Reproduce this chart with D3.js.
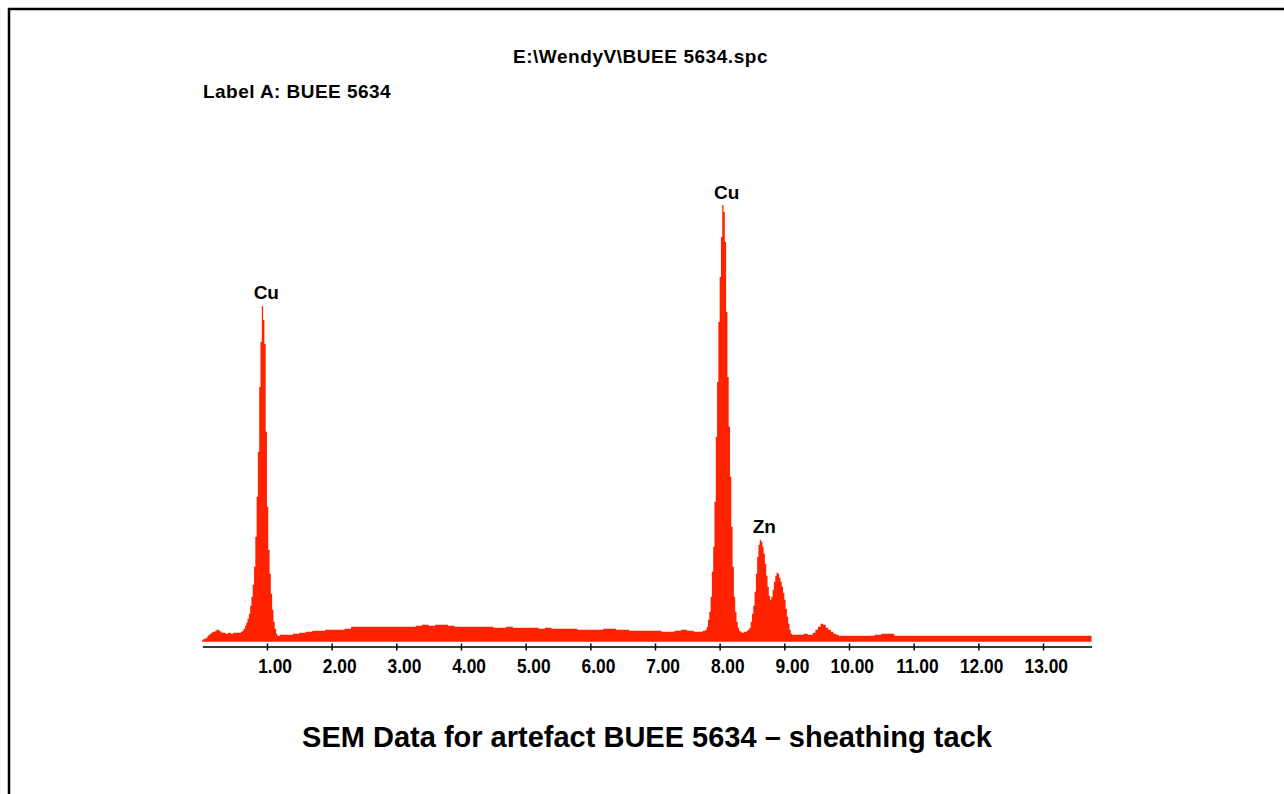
<!DOCTYPE html>
<html><head><meta charset="utf-8">
<script src="https://cdn.jsdelivr.net/npm/d3@7"></script>
<style>html,body{margin:0;padding:0;background:#fff;} svg{display:block;}</style>
</head><body>
<svg id="chart" width="1284" height="794"></svg>
<script>
// ---- chart text ----
const titleText = "E:\\WendyV\\BUEE 5634.spc";
const labelText = "Label A: BUEE 5634";
const captionText = "SEM Data for artefact BUEE 5634 \u2013 sheathing tack";

// ---- axis ticks (keV) ----
const tickValues = [1, 2, 3, 4, 5, 6, 7, 8, 9, 10, 11, 12, 13];

// ---- spectrum: channel start energy (keV) and counts ----
const energies = [
  0.00, 0.02, 0.04, 0.06, 0.08, 0.10, 0.12, 0.14, 0.16, 0.18, 0.20, 0.22, 0.24, 0.26, 0.28, 0.30, 0.32, 0.36, 0.40, 0.44, 0.48, 0.52, 0.56,
  0.60, 0.62, 0.64, 0.66, 0.68, 0.70, 0.72, 0.74, 0.76, 0.78, 0.80, 0.82, 0.84, 0.86, 0.88, 0.90, 0.92, 0.94, 0.96, 0.98,
  1.00, 1.02, 1.04, 1.06, 1.08, 1.10, 1.12, 1.14, 1.16, 1.18, 1.20,
  1.30, 1.40, 1.50, 1.60, 1.70, 1.80, 1.90, 2.00, 2.10, 2.20, 2.30, 2.40, 2.50, 2.60, 2.70, 2.80, 2.90,
  3.00, 3.10, 3.20, 3.30, 3.40, 3.50, 3.60, 3.70, 3.80, 3.90, 4.00, 4.10, 4.20, 4.30, 4.40, 4.50, 4.60, 4.70, 4.80, 4.90,
  5.00, 5.10, 5.20, 5.30, 5.40, 5.50, 5.60, 5.70, 5.80, 5.90, 6.00, 6.10, 6.20, 6.30, 6.40, 6.50, 6.60, 6.70, 6.80, 6.90,
  7.00, 7.10, 7.20, 7.30, 7.40, 7.50, 7.60,
  7.70, 7.72, 7.74, 7.76, 7.78, 7.80, 7.82, 7.84, 7.86, 7.88, 7.90, 7.92, 7.94, 7.96, 7.98,
  8.00, 8.02, 8.04, 8.06, 8.08, 8.10, 8.12, 8.14, 8.16, 8.18, 8.20, 8.22, 8.24, 8.26, 8.28, 8.30, 8.32, 8.34, 8.36, 8.38,
  8.40, 8.42, 8.44, 8.46, 8.48, 8.50, 8.52, 8.54, 8.56, 8.58, 8.60, 8.62, 8.64, 8.66, 8.68, 8.70, 8.72, 8.74, 8.76, 8.78,
  8.80, 8.82, 8.84, 8.86, 8.88, 8.90, 8.92, 8.94, 8.96, 8.98, 9.00, 9.02, 9.04, 9.06, 9.08, 9.10, 9.12, 9.14,
  9.20, 9.30, 9.36, 9.40, 9.44, 9.48, 9.52, 9.56, 9.60, 9.64, 9.68, 9.72, 9.76, 9.80, 9.84,
  9.90, 10.00, 10.10, 10.20, 10.30, 10.40, 10.50, 10.60, 10.70, 10.80, 10.90,
  11.00, 11.50, 12.00, 12.50, 13.00, 13.50, 13.75
];
const counts = [
  2, 3, 3, 4, 6, 7, 8, 9, 10, 10, 11, 12, 12, 11, 10, 9, 9, 8, 9, 8, 9, 9, 9,
  10, 11, 13, 16, 19, 23, 28, 36, 45, 57, 75, 105, 145, 190, 255, 300, 336, 322, 298, 210,
  135, 92, 68, 48, 32, 20, 13, 8, 6, 6, 7,
  7, 8, 9, 10, 11, 11, 12, 12, 12, 13, 15, 15, 15, 15, 15, 15, 15,
  15, 15, 15, 16, 17, 16, 17, 17, 16, 15, 15, 15, 15, 15, 15, 14, 14, 15, 14, 14,
  14, 14, 13, 14, 13, 13, 13, 13, 12, 12, 12, 12, 13, 13, 12, 12, 11, 11, 11, 11,
  11, 10, 10, 11, 12, 11, 10,
  10, 10, 11, 11, 12, 15, 22, 30, 45, 70, 95, 140, 205, 260, 320,
  365, 405, 437, 430, 400, 330, 265, 215, 165, 115, 75, 45, 30, 20, 14, 11, 10, 9, 9, 10,
  10, 11, 12, 14, 20, 28, 36, 50, 68, 85, 97, 102, 100, 95, 88, 78, 66, 55, 46, 42,
  45, 52, 60, 66, 69, 68, 64, 60, 55, 49, 42, 33, 25, 18, 12, 8, 7, 7,
  7, 8, 7, 7, 9, 12, 15, 18, 17, 14, 12, 10, 8, 7, 6,
  6, 6, 6, 6, 6, 7, 8, 8, 6, 6, 6,
  6, 6, 6, 6, 6, 6, 6
];

// ---- peak labels ----
const peakNames = ["Cu", "Cu", "Zn"];
const peakEnergies = [0.92, 8.04, 8.62];
const peakCounts = [336, 437, 102];

// ---- drawing ----
const svg = d3.select("#chart");
const fontFam = "'Liberation Sans', Arial, sans-serif";

svg.append("path")
  .attr("d", "M9,794V9H1284")
  .attr("fill", "none").attr("stroke", "#000").attr("stroke-width", 2.5);

const x = d3.scaleLinear().domain([0, 13.75]).range([202.3, 1091.5]);
const y = d3.scaleLinear().domain([0, 437]).range([641.7, 205]);

const spectrum = energies.map((e, i) => ({e, c: counts[i]}));

svg.append("path")
  .datum(spectrum)
  .attr("fill", "#ff2200")
  .attr("d", d3.area()
    .curve(d3.curveStepAfter)
    .x(d => x(d.e))
    .y0(y(0))
    .y1(d => y(d.c)));

const axis = d3.axisBottom(x)
  .tickValues(tickValues)
  .tickFormat(d3.format(".2f"))
  .tickSizeInner(4)
  .tickSizeOuter(0);

const gAxis = svg.append("g")
  .attr("transform", "translate(0,646.5)")
  .call(axis)
  .attr("font-family", fontFam)
  .attr("font-size", 19.5)
  .attr("font-weight", "bold");
gAxis.select(".domain").attr("stroke", "#3c3c3c").attr("stroke-width", 2);
gAxis.selectAll(".tick line").attr("y1", -3).attr("y2", 4).attr("stroke", "#000").attr("stroke-width", 1.5);
gAxis.selectAll(".tick text")
  .attr("fill", "#000")
  .attr("text-anchor", "end")
  .attr("x", 24.5)
  .attr("y", 26)
  .attr("dy", null)
  .each(function () {
    const w = this.getComputedTextLength();
    d3.select(this).attr("textLength", w * 0.89).attr("lengthAdjust", "spacingAndGlyphs");
  });

svg.selectAll("text.peak")
  .data(peakNames)
  .enter().append("text")
  .attr("class", "peak")
  .attr("x", (d, i) => x(peakEnergies[i]) + 4.5)
  .attr("y", (d, i) => y(peakCounts[i]) - 6.5)
  .attr("text-anchor", "middle")
  .attr("font-family", fontFam)
  .attr("font-size", 19)
  .attr("font-weight", "bold")
  .text(d => d);

svg.append("text")
  .attr("x", 640.5).attr("y", 62.5)
  .attr("text-anchor", "middle")
  .attr("font-family", fontFam)
  .attr("font-size", 19)
  .attr("font-weight", "bold")
  .attr("letter-spacing", 0.55)
  .text(titleText);

svg.append("text")
  .attr("x", 203).attr("y", 97.5)
  .attr("font-family", fontFam)
  .attr("font-size", 19)
  .attr("font-weight", "bold")
  .attr("letter-spacing", 0.45)
  .text(labelText);

svg.append("text")
  .attr("x", 647).attr("y", 747)
  .attr("text-anchor", "middle")
  .attr("font-family", fontFam)
  .attr("font-size", 29)
  .attr("font-weight", "bold")
  .text(captionText);
</script>
</body></html>
